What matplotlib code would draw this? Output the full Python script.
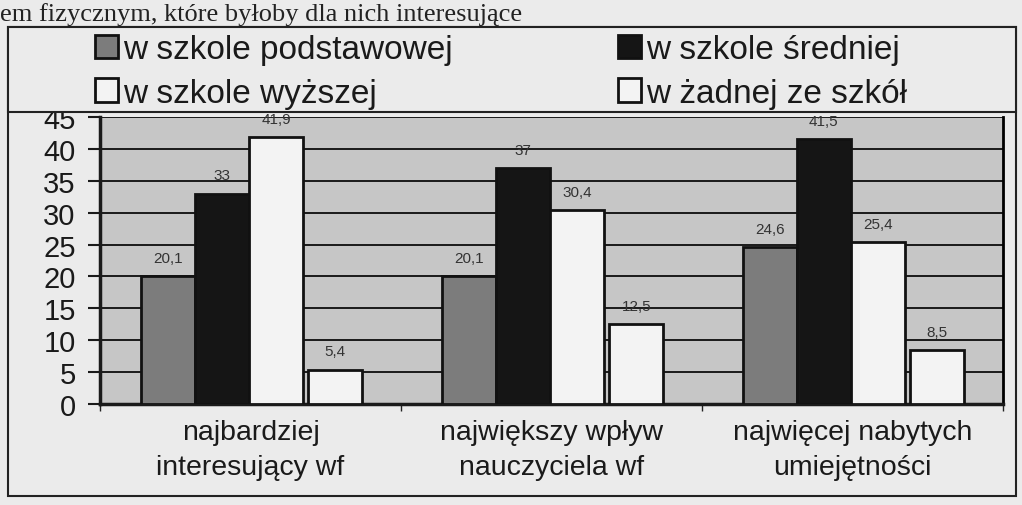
import matplotlib
matplotlib.use("Agg")
import matplotlib.pyplot as plt
import numpy as np
from matplotlib.patches import Rectangle, Patch

plt.rcParams['font.family'] = ['Liberation Sans', 'DejaVu Sans']

categories = ["najbardziej\ninteresujący wf", "największy wpływ\nnauczyciela wf", "najwięcej nabytych\numiejętności"]
series_names = ["w szkole podstawowej", "w szkole średniej", "w szkole wyższej", "w żadnej ze szkół"]
podstawowa = [20.1, 20.1, 24.6]
srednia = [33, 37, 41.5]
wyzsza = [41.9, 30.4, 25.4]
zadna = [5.4, 12.5, 8.5]
labels_pod = ["20,1", "20,1", "24,6"]
labels_sr = ["33", "37", "41,5"]
labels_wy = ["41,9", "30,4", "25,4"]
labels_za = ["5,4", "12,5", "8,5"]
yticks = [0, 5, 10, 15, 20, 25, 30, 35, 40, 45]

paper = "#ebebeb"
colors = ["#7c7c7c", "#151515", "#f3f3f3", "#f3f3f3"]

W, H = 1022, 506
fig = plt.figure(figsize=(W/100, H/100), dpi=100, facecolor=paper)

# top book text line
fig.text(0.0, 1-21/H, "em fizycznym, które byłoby dla nich interesujące",
         family="Liberation Serif", fontsize=19, color="#222222", va="baseline", ha="left")

# outer frame
fig.patches.append(Rectangle((8/W, 1-497/H), (1016-8)/W, (497-28)/H, transform=fig.transFigure,
                             fill=False, edgecolor="#222222", lw=1.5, zorder=0))

ax = fig.add_axes([100/W, 1-405/H, (1003-100)/W, (405-118)/H])
ax.set_facecolor("#c6c6c6")

x = np.arange(len(categories))
bw = 0.18
offsets = [-1.5*bw - 0.005, -0.5*bw - 0.005, 0.5*bw - 0.005, 1.5*bw + 0.012]
all_vals = [podstawowa, srednia, wyzsza, zadna]
all_labels = [labels_pod, labels_sr, labels_wy, labels_za]
for vals, labs, off, c in zip(all_vals, all_labels, offsets, colors):
    bars = ax.bar(x + off, vals, bw, color=c, edgecolor="#111111", linewidth=2, zorder=3)
    for b, lab in zip(bars, labs):
        ax.annotate(lab, (b.get_x() + b.get_width()/2, b.get_height()), xytext=(0, 8),
                    textcoords="offset points", ha="center", va="bottom",
                    fontsize=11, color="#333333", zorder=4)

ax.set_xlim(-0.5, 2.5)
ax.set_ylim(0, 45)
ax.set_yticks(yticks)
ax.set_yticklabels([str(t) for t in yticks], fontsize=21, color="#1a1a1a")
ax.yaxis.grid(True, color="#1a1a1a", linewidth=1.4, zorder=1)
ax.set_axisbelow(True)
ax.set_xticks(x)
ax.set_xticklabels(categories, fontsize=20.5, color="#1a1a1a", linespacing=1.45)
ax.tick_params(axis='x', length=0, pad=11)
ax.set_xticks([-0.5, 0.5, 1.5, 2.5], minor=True)
ax.tick_params(axis='x', which='minor', length=5, width=1, color="#222222")
ax.tick_params(axis='y', length=8.5, width=1.5, color="#1a1a1a", pad=9)
for s in ["left", "bottom"]:
    ax.spines[s].set_linewidth(2.5)
    ax.spines[s].set_color("#1a1a1a")
ax.spines["right"].set_linewidth(2)
ax.spines["top"].set_visible(False)

# legend box covering top of plot
fig.patches.append(Rectangle((8/W, 1-113/H), (1016-8)/W, (113-28)/H, transform=fig.transFigure,
                             facecolor=paper, edgecolor="#222222", lw=1.5, zorder=5))
handles = [Patch(facecolor=c, edgecolor="#111111", linewidth=2) for c in colors]
for idx, xpos in [((0, 2), 95), ((1, 3), 618)]:
    leg = fig.legend([handles[i] for i in idx], [series_names[i] for i in idx],
                     loc="upper left", bbox_to_anchor=(xpos/W, 1-35/H), frameon=False,
                     fontsize=24, handlelength=0.7, handleheight=0.7, handletextpad=0.15,
                     labelspacing=0.38, borderpad=0, borderaxespad=0)
    for t in leg.get_texts():
        t.set_color("#1a1a1a")
    leg.set_zorder(10)

fig.savefig("out.png", dpi=100, facecolor=paper)
